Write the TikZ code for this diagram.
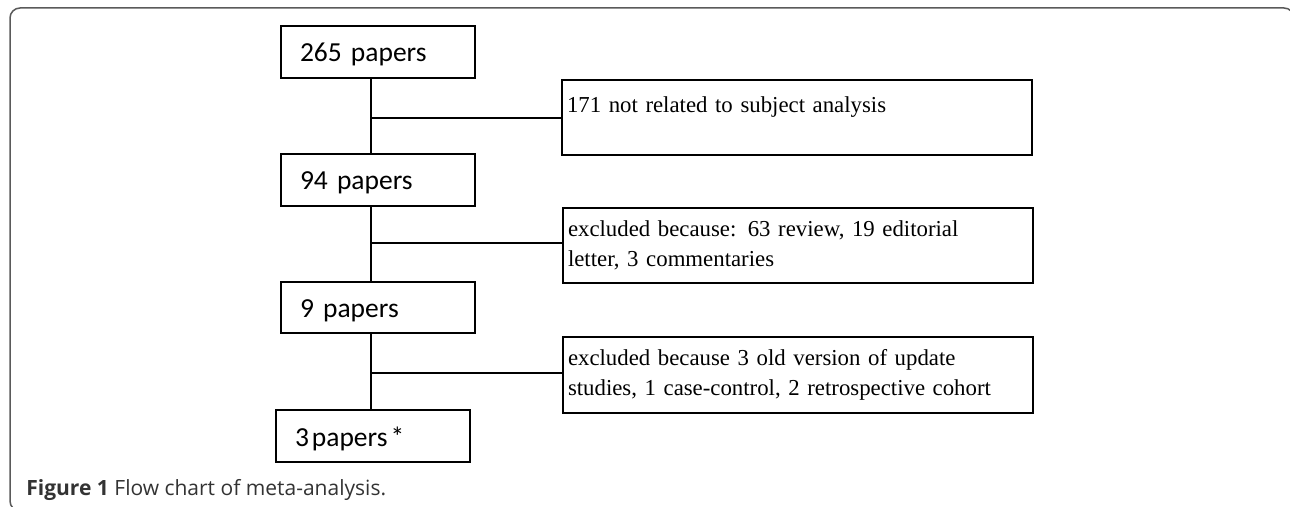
\documentclass[tikz,border=0pt]{standalone}
\usepackage{fontspec}
\setmainfont{Liberation Serif}
\newfontfamily\boxfont{Carlito}
\newfontfamily\capfont{Open Sans}
\usepackage{xcolor}
\definecolor{framegray}{HTML}{5A5A5A}
\definecolor{capgray}{HTML}{333333}
\usetikzlibrary{positioning}

\begin{document}
\begin{tikzpicture}[x=0.5pt, y=-0.5pt,
                    paperbox/.style={draw, line width=1pt, anchor=north west,
                        minimum width=97pt, minimum height=26pt, inner xsep=9.5pt, inner ysep=0pt,
                        text width=78pt, align=left, text height=10pt, text depth=0pt,
                        font=\boxfont\fontsize{13.75}{16}\selectfont},
                    outbox/.style={draw, line width=1pt, anchor=north west,
                        minimum width=235pt, minimum height=37.5pt, inner xsep=2.5pt,
                        text width=230pt, align=left,
                        font=\fontsize{11.4}{15}\selectfont}]
                    \useasboundingbox (0, 0) rectangle (1290, 507);
                    \draw[framegray, line width=0.75pt, rounded corners=5pt] (10, 8) rectangle (1294, 511);

                    \node[paperbox] (p265) at (280, 25) {265 papers};
                    \node[paperbox] (p94) at (280, 153) {94 papers};
                    \node[paperbox, minimum height=25.5pt] (p9) at (280, 281) {9 papers};
                    \node[paperbox] (p3) at (275, 409) {3\kern1.5pt papers\kern1.5pt *};

                    \node[outbox, inner ysep=0pt, text height=16pt, text depth=21pt] (ex171) at (561, 79)
                        {171 not related to subject analysis};
                    \node[outbox] (ex85) at (562, 207)
                        {excluded because: 63 review, 19 editorial\\letter, 3 commentaries};
                    \node[outbox, minimum height=38pt] (ex6) at (562, 336)
                        {excluded because 3 old version of update\\studies, 1 case-control, 2 retrospective cohort};

                    \coordinate (j1) at (371, 118);
                    \coordinate (j2) at (371, 243);
                    \coordinate (j3) at (371, 373);

                    \draw[line width=1pt] (p265.south -| j1) -- (p94.north -| j1);
                    \draw[line width=1pt] (p94.south -| j2) -- (p9.north -| j2);
                    \draw[line width=1pt] (p9.south -| j3) -- (p3.north -| j3);
                    \draw[line width=1pt] (j1) -- (j1 -| ex171.west);
                    \draw[line width=1pt] (j2) -- (j2 -| ex85.west);
                    \draw[line width=1pt] (j3) -- (j3 -| ex6.west);

                    \node[anchor=base west, inner sep=0pt, text=capgray, font=\capfont\fontsize{10.5}{12}\selectfont] (cap) at (26, 495)
                        {\textbf{Figure 1} Flow chart of meta-analysis.};
                \end{tikzpicture}
\end{document}
